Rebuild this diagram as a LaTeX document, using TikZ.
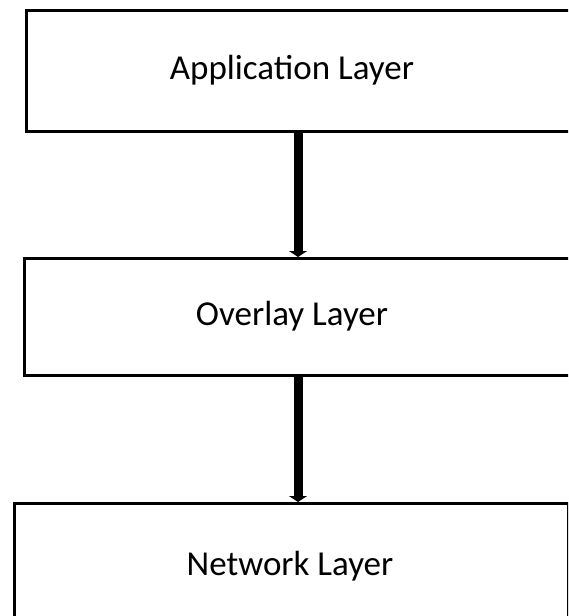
\documentclass[tikz,border=0pt]{standalone}
\usepackage{fontspec}
\setmainfont{Carlito}
\usetikzlibrary{positioning,arrows.meta}

\begin{document}
\begin{tikzpicture}[
    x=1pt, y=1pt,
    layer/.style={draw, line width=3pt, anchor=north west, inner sep=0pt},
    layertext/.style={font=\fontsize{35}{42}\selectfont, inner sep=0pt},
    link/.style={line width=9pt, -{Triangle[width=18pt,length=6pt]}}
  ]
  \useasboundingbox (0,0) rectangle (568,-616);
  \clip (0,0) rectangle (568,-616);

  % the three layers (right and bottom edges run off the page)
  \node[layer, minimum width=570pt, minimum height=121pt] (app) at (25,-9) {};
  \node[layer, minimum width=572pt, minimum height=117pt] (ovl) at (23,-257) {};
  \node[layer, minimum width=554pt, minimum height=140pt] (net) at (13,-502) {};

  \node[layertext] (applbl) at (292,-70) {Application Layer};
  \node[layertext] (ovllbl) at (292,-316) {Overlay Layer};
  \node[layertext] (netlbl) at (290,-566) {Network Layer};

  % arrows between layers
  \coordinate (axis) at (298,0);
  \draw[link] (app.south -| axis) -- (ovl.north -| axis);
  \draw[link] (ovl.south -| axis) -- (net.north -| axis);
\end{tikzpicture}
\end{document}
